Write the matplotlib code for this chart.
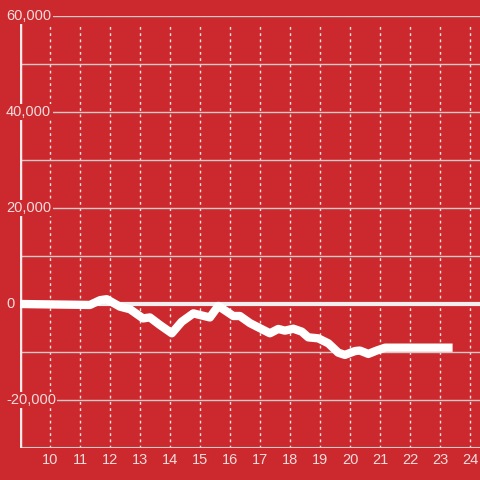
import matplotlib
matplotlib.use("Agg")
import matplotlib.pyplot as plt

# data (hour of day, value)
hours = [9.0, 11.33, 11.67, 11.89, 12.33, 12.67, 13.1, 13.33, 13.67, 14.06, 14.39,
         14.78, 15.0, 15.33, 15.61, 16.11, 16.33, 16.67, 17.33, 17.61, 17.83, 18.11,
         18.39, 18.61, 18.94, 19.28, 19.61, 19.83, 20.17, 20.33, 20.61, 20.89, 21.17, 23.42]
values = [0, -200, 800, 1000, -550, -1100, -3000, -2800, -4400, -6100, -3700,
          -1950, -2300, -2800, -400, -2500, -2500, -4000, -6100, -5200, -5550, -5150,
          -5750, -6950, -7150, -8200, -10150, -10600, -9800, -9700, -10400, -9700, -9100, -9100]
x_ticks = list(range(10, 25))
y_major = [60000, 40000, 20000, 0, -20000]
y_minor = [50000, 30000, 10000, -10000]

RED = "#cc292e"
TXT = "#f3dcdc"
GRID = "#d8c8c8"

W, H = 480, 480
fig = plt.figure(figsize=(W / 100, H / 100), dpi=100, facecolor=RED)
ax = fig.add_axes([20 / W, 32 / H, 460 / W, 432 / H], facecolor=RED)
ax.set_xlim(9, 24 + 1 / 3)
ax.set_ylim(-30000, 60000)
for s in ax.spines.values():
    s.set_visible(False)
ax.set_xticks([])
ax.set_yticks([])

top_frac = (448 - 24) / 432
for x in x_ticks:
    ax.axvline(x, ymin=0, ymax=top_frac, color="#f0e0e0", lw=1, ls=(0, (2, 2.5)), zorder=1)
for y in y_major + y_minor:
    if y != 0:
        ax.axhline(y, color=GRID, lw=1, zorder=1)
ax.axhline(-30000, color=GRID, lw=1.5, zorder=2)
ax.axhline(0, color="#f4eeee", lw=3, zorder=2)
ax.axvline(9, ymin=0, ymax=top_frac, color="#f2eaea", lw=2.5, zorder=2)

ax.plot(hours, values, color="white", lw=6, solid_capstyle="butt",
        solid_joinstyle="round", zorder=3, clip_on=False)

for y in y_major:
    ax.text(-14 / 460 * (24 + 1 / 3 - 9) + 9, y, f"{y:,}", ha="left", va="center",
            color=TXT, fontsize=10.5, family="Liberation Sans", zorder=5,
            bbox=dict(facecolor=RED, edgecolor="none", pad=1.0))
for x in x_ticks:
    ax.text(x, -32500, str(x), ha="center", va="center", color=TXT,
            fontsize=10.5, family="Liberation Sans", zorder=5)

fig.savefig("out.png", dpi=100, facecolor=RED)
